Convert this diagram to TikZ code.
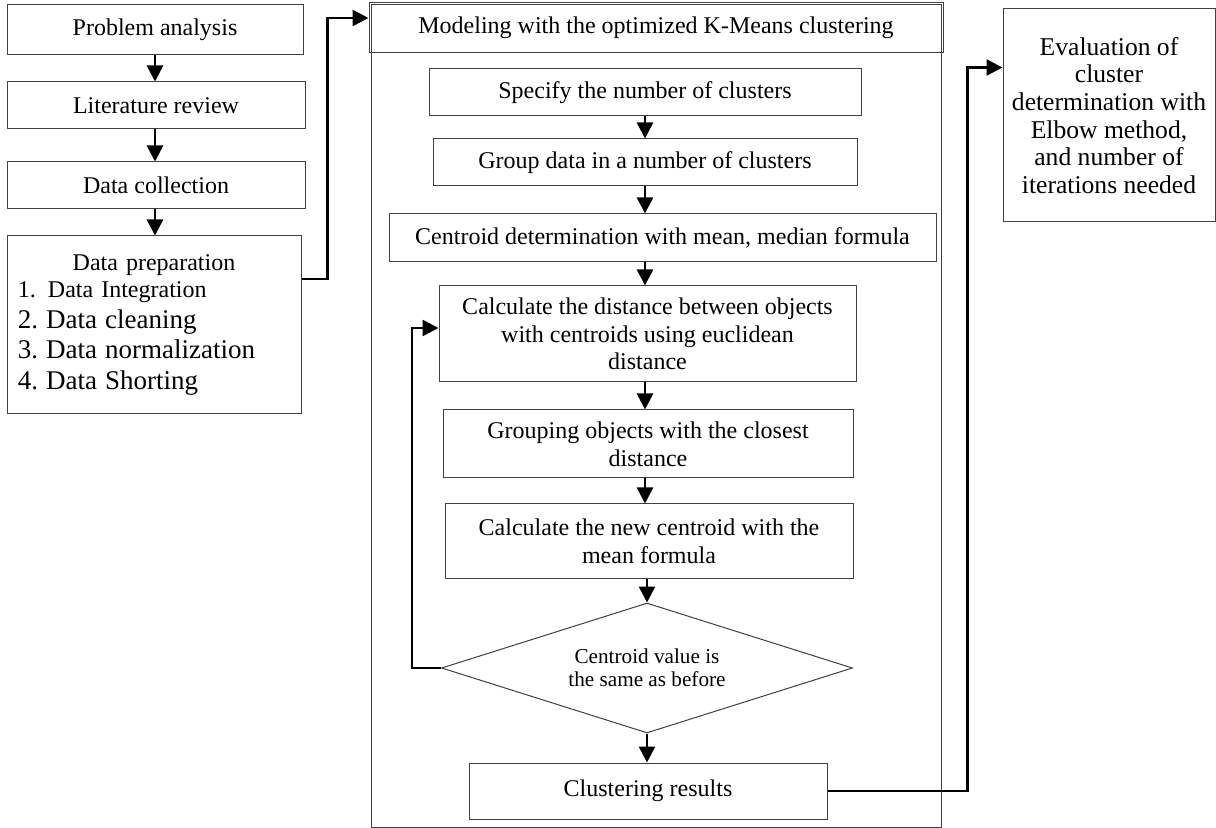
\documentclass[tikz,border=0pt]{standalone}
\usepackage{fontspec}
\setmainfont{Liberation Serif}
\usetikzlibrary{shapes.geometric,arrows.meta}

\begin{document}
\begin{tikzpicture}[x=0.5pt,y=-0.5pt,
		box/.style={draw=black!75,line width=0.5pt,inner sep=2pt,align=center,font=\fontsize{12}{13.8}\selectfont},
		arr/.style={-{Triangle[width=8pt,length=8pt]},line width=1.3pt}]
		\useasboundingbox (0,0) rectangle (1216,828);
		% left column
		\node (prob) [box,minimum width=148pt,minimum height=25pt] at (155,30) {Problem analysis};
		\node (lit) [box,minimum width=149pt,minimum height=23.5pt] at (156,105.5) {Literature review};
		\node (coll) [box,minimum width=149pt,minimum height=23.5pt] at (156,185.5) {Data collection};
		\node (prep) [box,align=left,text width=136pt,inner sep=5.5pt,minimum height=89pt,font=\fontsize{12}{15.3}\selectfont] at (154,325)
			{\makebox[\linewidth]{Data preparation}\\[-1.8pt]
			1.\enspace Data Integration\\
			\fontsize{13.5}{15.3}\selectfont 2.\ Data cleaning\\
			3.\ Data normalization\\
			4.\ Data Shorting};
		\draw[arr] (prob) -- (prob |- lit.north);
		\draw[arr] (lit.south -| prob) -- (prob |- coll.north);
		\draw[arr] (coll.south -| prob) -- (prob |- prep.north);
		% modeling block
		\node (frame) [draw=black!75,line width=0.5pt,minimum width=285pt,minimum height=411pt] at (656,416) {};
		\node (head) [box,minimum width=287pt,minimum height=25pt] at (656,28) {Modeling with the optimized K-Means clustering};
		\node (spec) [box,minimum width=216pt,minimum height=23.5pt] at (645,92.5) {Specify the number of clusters};
		\node (grp) [box,minimum width=212pt,minimum height=23.5pt] at (645,162.5) {Group data in a number of clusters};
		\node (cdet) [box,minimum width=273.5pt,minimum height=24pt] at (662.5,238) {Centroid determination with mean, median formula};
		\node (calc) [box,minimum width=208.5pt,minimum height=48pt] at (647.5,334) {Calculate the distance between objects\\with centroids using euclidean\\distance};
		\node (grpobj) [box,minimum width=205pt,minimum height=34pt] at (648,444) {Grouping objects with the closest\\distance};
		\node (newc) [box,minimum width=204pt,minimum height=37pt] at (649,541) {Calculate the new centroid with the\\mean formula};
		\node (dia) [box,shape=diamond,aspect=3.16,minimum width=205.5pt,minimum height=65pt,inner sep=1pt,font=\fontsize{10.6}{11.7}\selectfont] at (647,668) {Centroid value is\\the same as before};
		\node (clus) [box,minimum width=179pt,minimum height=28pt] at (648,791) {Clustering results};
		\draw[arr] (spec) -- (grp);
		\draw[arr] (grp) -- (grp |- cdet.north);
		\draw[arr] (cdet.south -| grp) -- (grp |- calc.north);
		\draw[arr] (calc.south -| grp) -- (grp |- grpobj.north);
		\draw[arr] (grpobj.south -| grp) -- (grp |- newc.north);
		\draw[arr] (newc.south -| dia) -- (dia.north);
		\draw[arr] (dia.south) -- (dia.south |- clus.north);
		\draw[arr] (dia.west) -- ++(-29,0) |- ([yshift=3pt]calc.west);
		% evaluation
		\node (eval) [box,minimum width=106pt,minimum height=106.5pt,font=\fontsize{12.8}{13.8}\selectfont] at (1109,115.5) {Evaluation of\\cluster\\determination with\\Elbow method,\\and number of\\iterations needed};
		\draw[arr] ([yshift=23pt]prep.east) -- ++(26,0) |- ([yshift=5pt]head.west);
		\draw[arr] (clus.east) -- ++(140,0) |- ([yshift=24pt]eval.west);
\end{tikzpicture}
\end{document}
